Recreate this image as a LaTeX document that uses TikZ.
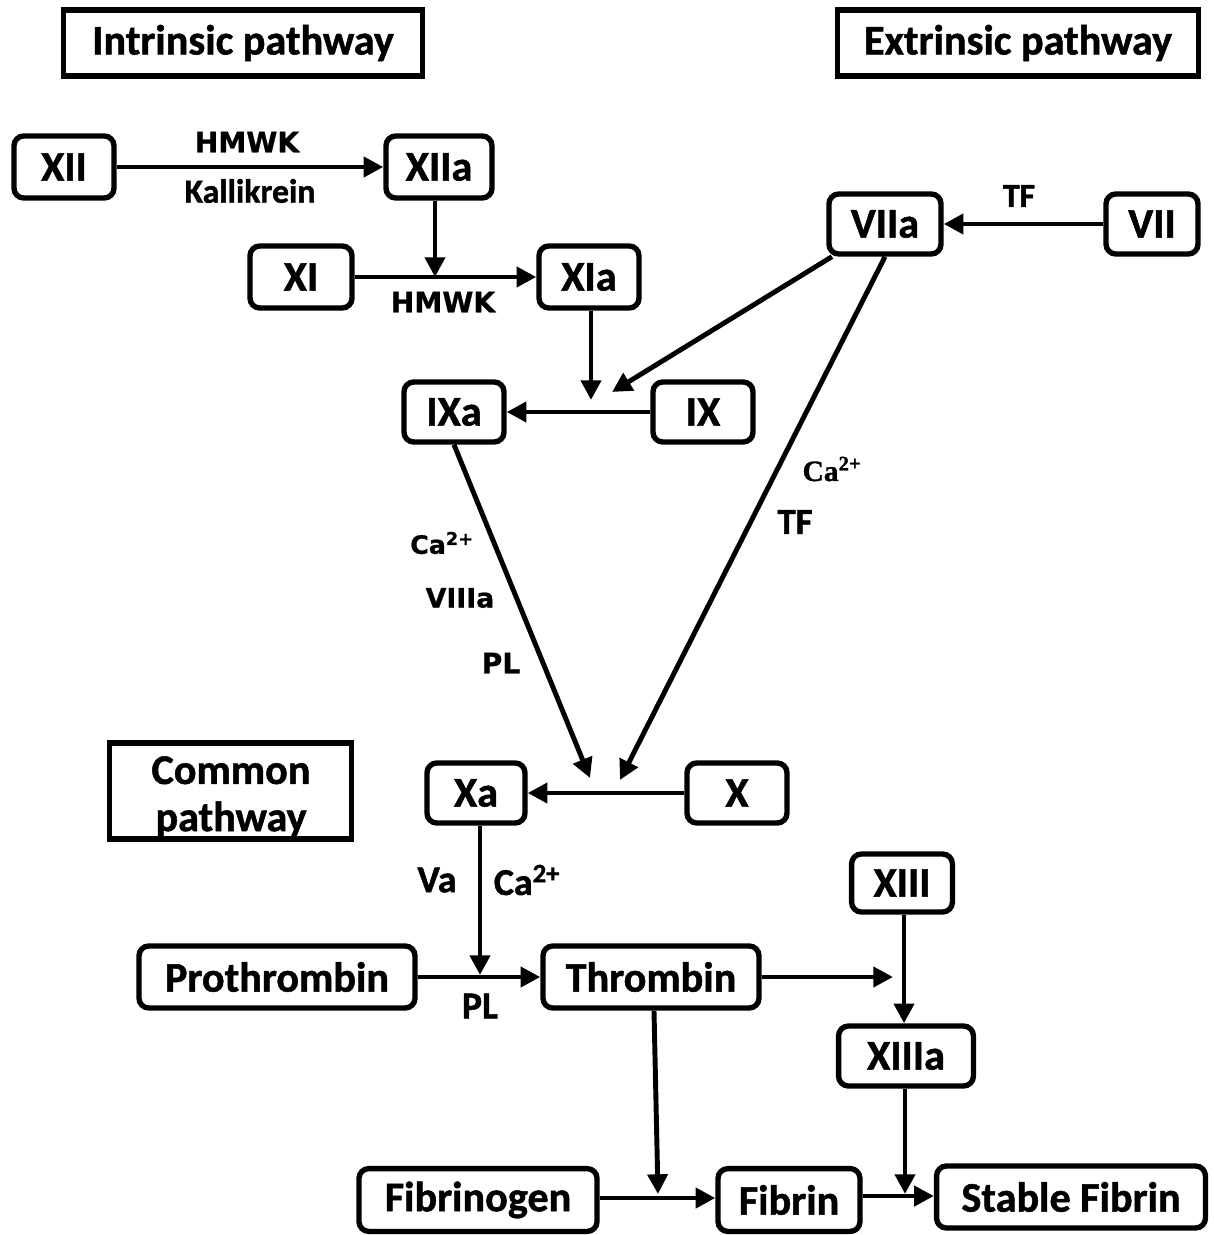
\documentclass[tikz,border=0pt]{standalone}
\usepackage{fontspec}
\setmainfont{Carlito}[BoldFeatures={FakeBold=1.2}]
\newfontfamily\verd{DejaVu Sans}[BoldFeatures={FakeBold=0.8}]
\newfontfamily\serb{Liberation Serif}[BoldFeatures={FakeBold=1}]
\usetikzlibrary{arrows.meta}
\begin{document}
\begin{tikzpicture}[x=0.025cm,y=-0.025cm,
  bx/.style={draw,line width=3.8pt,rounded corners=7pt,inner sep=0pt,font=\fontsize{30}{32}\selectfont\bfseries},
  ttl/.style={draw,line width=3.6pt,inner sep=0pt},
  ttltext/.style={inner sep=0pt,font=\fontsize{30}{33.5}\selectfont\bfseries,align=center},
  arr/.style={line width=3.5pt,-{Triangle[length=14pt,width=14pt]}},
  lbc/.style={inner sep=0pt,font=\fontsize{24}{26}\selectfont\bfseries},
  lbb/.style={inner sep=0pt,font=\fontsize{27}{29}\selectfont\bfseries},
  lbv/.style={inner sep=0pt,font=\fontsize{20}{22}\selectfont\verd\bfseries},
  lbs/.style={inner sep=0pt,font=\fontsize{21}{23}\selectfont\serb\bfseries}]
\useasboundingbox (0,0) rectangle (1214,1235);
% titles
\node[ttl,ttltext,minimum width=8.95cm,minimum height=1.65cm] (tin) at (243,43) {Intrinsic pathway};
\node[ttl,ttltext,minimum width=9.0cm,minimum height=1.65cm] (tex) at (1018,43) {Extrinsic pathway};
\node[ttl,minimum width=6.05cm,minimum height=2.4cm] (tco) at (230.5,791) {};
\node[ttltext] (tcot) at (231,797) {Common\\pathway};
% boxes
\node[bx,minimum width=2.5cm,minimum height=1.55cm] (XII) at (64,167) {XII};
\node[bx,minimum width=2.65cm,minimum height=1.55cm] (XIIa) at (439,167) {XIIa};
\node[bx,minimum width=2.55cm,minimum height=1.55cm] (XI) at (301,277) {XI};
\node[bx,minimum width=2.5cm,minimum height=1.55cm] (XIa) at (589,277) {XIa};
\node[bx,minimum width=2.5cm,minimum height=1.5cm] (IXa) at (454,412) {IXa};
\node[bx,minimum width=2.5cm,minimum height=1.5cm] (IX) at (703,412) {IX};
\node[bx,minimum width=2.8cm,minimum height=1.5cm] (VIIa) at (885,224) {VIIa};
\node[bx,minimum width=2.3cm,minimum height=1.5cm] (VII) at (1152,224) {VII};
\node[bx,minimum width=2.45cm,minimum height=1.5cm] (Xa) at (476,793) {Xa};
\node[bx,minimum width=2.5cm,minimum height=1.5cm] (X) at (737,793) {X};
\node[bx,minimum width=6.9cm,minimum height=1.55cm] (Pro) at (277,977) {Prothrombin};
\node[bx,minimum width=5.4cm,minimum height=1.55cm] (Thr) at (651,977) {Thrombin};
\node[bx,minimum width=2.52cm,minimum height=1.45cm] (XIII) at (902,883) {XIII};
\node[bx,minimum width=3.37cm,minimum height=1.5cm] (XIIIa) at (906,1056) {XIIIa};
\node[bx,minimum width=5.95cm,minimum height=1.57cm] (Fbg) at (478,1200) {Fibrinogen};
\node[bx,minimum width=3.55cm,minimum height=1.57cm] (Fbn) at (789,1200) {Fibrin};
\node[bx,minimum width=6.72cm,minimum height=1.55cm] (SF) at (1071,1197) {Stable Fibrin};
% junction points
\coordinate (j1) at (435,277);
\coordinate (j2) at (612,392);
\coordinate (j3) at (591,400);
\coordinate (k1) at (590,778);
\coordinate (k2) at (620,780);
\coordinate (p1) at (480,975);
\coordinate (t1) at (893,977);
\coordinate (m1) at (658,1194);
\coordinate (m2) at (905,1194);
% connectors
\draw[arr] (XII) -- (XIIa);
\draw[arr] (XIIa.south -| j1) -- (j1);
\draw[arr] (XI) -- (XIa);
\draw[arr] (XIa.south -| j3) -- (j3);
\draw[arr] (IX) -- (IXa);
\draw[arr] (VII) -- (VIIa);
\draw[arr] (VIIa) -- (j2);
\draw[arr] (IXa.south) -- (k1);
\draw[arr] (VIIa.south) -- (k2);
\draw[arr] (X) -- (Xa);
\draw[arr] (Xa.south -| p1) -- (p1);
\draw[arr] (Pro) -- (Thr);
\draw[arr] (Thr) -- (t1);
\draw[arr] (XIII.south -| 904,0) -- (XIIIa.north -| 904,0);
\draw[arr] (Thr.south -| 654,0) -- (m1);
\draw[arr] (XIIIa.south -| m2) -- (m2);
\draw[arr] (Fbg.east |- 0,1198) -- (Fbn.west |- 0,1198);
\draw[arr] (Fbn.east |- 0,1196) -- (SF.west |- 0,1196);
% labels
\node[lbv] (l1) at (247,142) {HMWK};
\node[lbc] (l2) at (250,191) {Kallikrein};
\node[lbv] (l3) at (443,302) {HMWK};
\node[lbc] (l4) at (1019,196) {TF};
\node[lbs] (l5) at (832,469) {Ca\textsuperscript{2+}};
\node[lbc,font=\fontsize{26}{28}\selectfont\bfseries] (l6) at (795,522) {TF};
\node[lbv,font=\fontsize{18}{20}\selectfont\verd\bfseries] (l7) at (442,543) {Ca\textsuperscript{2+}};
\node[lbv,font=\fontsize{19}{21}\selectfont\verd\bfseries] (l8) at (460,598) {VIIIa};
\node[lbv] (l9) at (501,663) {PL};
\node[lbb] (l10) at (437,880) {Va};
\node[lbb] (l11) at (527,880) {Ca\textsuperscript{2+}};
\node[lbb] (l12) at (480,1006) {PL};
\end{tikzpicture}
\end{document}
